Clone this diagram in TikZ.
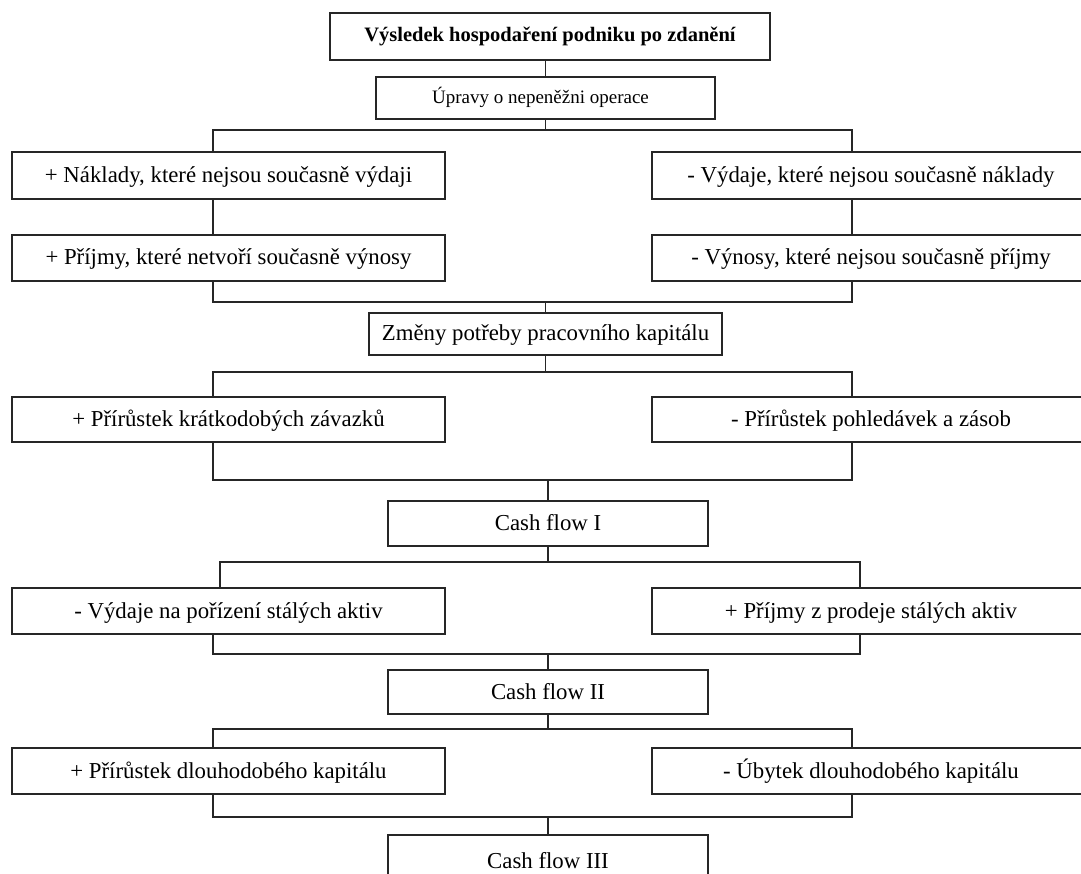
\documentclass[tikz,border=0pt]{standalone}
\usepackage{fontspec}
\setmainfont{Liberation Serif}
\begin{document}
\begin{tikzpicture}[x=1pt,y=-1pt,
  box/.style={draw=black!85, line width=1.2pt, inner sep=0pt, outer sep=0pt, font=\fontsize{22.8}{27}\selectfont, text=black, text height=18pt, text depth=4pt},
  conn/.style={draw=black!85, line width=1.2pt},
]
\useasboundingbox (0,0) rectangle (1081,874);
\clip (0,0) rectangle (1081,874);
% top
\node[box, minimum width=440, minimum height=47, font=\bfseries\fontsize{20.5}{24}\selectfont, text height=15pt, text depth=4pt] (top) at (550,36.5) {Výsledek hospodaření podniku po zdanění};
\node[box, minimum width=339, minimum height=42, font=\fontsize{19}{23}\selectfont, text height=16pt, text depth=4pt] (upr) at (545.5,98) {\hspace*{-10pt}Úpravy o nepeněžni operace};
% row A / B
\node[box, minimum width=433, minimum height=47] (aL) at (228.5,175.5) {+ Náklady, které nejsou současně výdaji};
\node[box, minimum width=438, minimum height=47] (aR) at (871,175.5) {- Výdaje, které nejsou současně náklady};
\node[box, minimum width=433, minimum height=46] (bL) at (228.5,258) {+ Příjmy, které netvoří současně výnosy};
\node[box, minimum width=438, minimum height=46] (bR) at (871,258) {- Výnosy, které nejsou současně příjmy};
% Změny
\node[box, minimum width=353, minimum height=42] (zm) at (545.5,334) {Změny potřeby pracovního kapitálu};
\node[box, minimum width=433, minimum height=45] (cL) at (228.5,419.5) {+ Přírůstek krátkodobých závazků};
\node[box, minimum width=438, minimum height=45] (cR) at (871,419.5) {- Přírůstek pohledávek a zásob};
% Cash flow I
\node[box, minimum width=320, minimum height=45] (cf1) at (548,523.5) {Cash flow I};
\node[box, minimum width=433, minimum height=46] (dL) at (228.5,611) {- Výdaje na pořízení stálých aktiv};
\node[box, minimum width=438, minimum height=46] (dR) at (871,611) {+ Příjmy z prodeje stálých aktiv};
% Cash flow II
\node[box, minimum width=320, minimum height=44] (cf2) at (548,692) {Cash flow II};
\node[box, minimum width=433, minimum height=46] (eL) at (228.5,771) {+ Přírůstek dlouhodobého kapitálu};
\node[box, minimum width=438, minimum height=46] (eR) at (871,771) {- Úbytek dlouhodobého kapitálu};
% Cash flow III
\node[box, minimum width=320, minimum height=46, anchor=north] (cf3) at (548,835) {};
\node[font=\fontsize{22.8}{27}\selectfont, anchor=base, inner sep=0pt] (cf3t) at (548,868) {Cash flow III};

% bracket coordinates
\coordinate (b1l) at (213,130); \coordinate (b1r) at (852,130);
\coordinate (b2l) at (213,302); \coordinate (b2r) at (852,302);
\coordinate (b3l) at (213,372); \coordinate (b3r) at (852,372);
\coordinate (b4l) at (213,480); \coordinate (b4r) at (852,480);
\coordinate (b5l) at (220,562); \coordinate (b5r) at (860,562);
\coordinate (b6l) at (213,654); \coordinate (b6r) at (860,654);
\coordinate (b7l) at (213,729); \coordinate (b7r) at (852,729);
\coordinate (b8l) at (213,817); \coordinate (b8r) at (852,817);

% connectors
\draw[conn] (top.south -| upr.north) -- (upr.north);
\draw[conn] (upr.south) -- (upr.south |- b1l);
\draw[conn] (b1l |- aL.north) -- (b1l) -- (b1r) -- (b1r |- aR.north);
\draw[conn] (b1l |- aL.south) -- (b1l |- bL.north);
\draw[conn] (b1r |- aR.south) -- (b1r |- bR.north);
\draw[conn] (b2l |- bL.south) -- (b2l) -- (b2r) -- (b2r |- bR.south);
\draw[conn] (b2l -| zm.north) -- (zm.north);
\draw[conn] (zm.south) -- (zm.south |- b3l);
\draw[conn] (b3l |- cL.north) -- (b3l) -- (b3r) -- (b3r |- cR.north);
\draw[conn] (b4l |- cL.south) -- (b4l) -- (b4r) -- (b4r |- cR.south);
\draw[conn] (b4l -| cf1.north) -- (cf1.north);
\draw[conn] (cf1.south) -- (cf1.south |- b5l);
\draw[conn] (b5l |- dL.north) -- (b5l) -- (b5r) -- (b5r |- dR.north);
\draw[conn] (b6l |- dL.south) -- (b6l) -- (b6r) -- (b6r |- dR.south);
\draw[conn] (b6l -| cf2.north) -- (cf2.north);
\draw[conn] (cf2.south) -- (cf2.south |- b7l);
\draw[conn] (b7l |- eL.north) -- (b7l) -- (b7r) -- (b7r |- eR.north);
\draw[conn] (b8l |- eL.south) -- (b8l) -- (b8r) -- (b8r |- eR.south);
\draw[conn] (b8l -| cf3.north) -- (cf3.north);
\end{tikzpicture}
\end{document}
